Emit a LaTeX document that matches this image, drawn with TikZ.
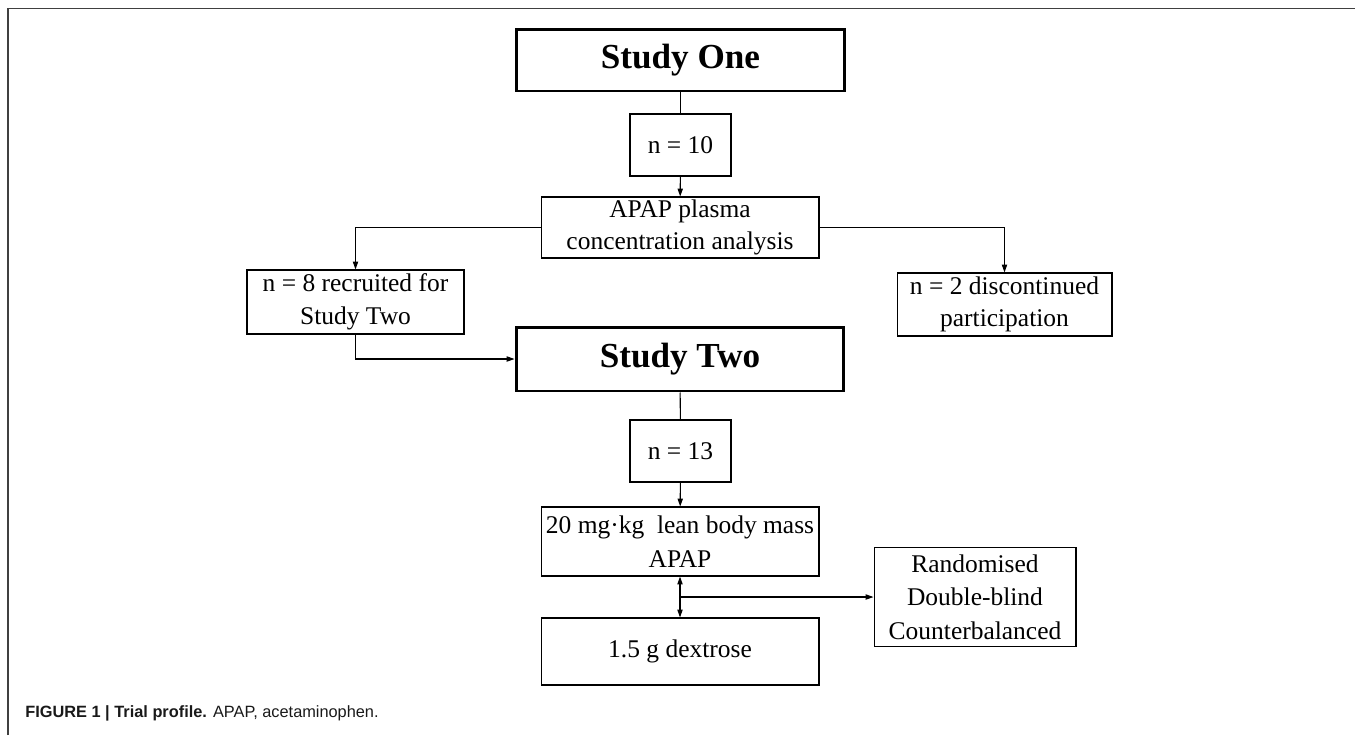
\documentclass[tikz,border=0pt]{standalone}
\usepackage{fontspec}
\setmainfont{Liberation Serif}
\setsansfont{Liberation Sans}
\usetikzlibrary{arrows.meta}

\begin{document}
\begin{tikzpicture}[x=0.02cm, y=-0.02cm,
    box/.style={draw, line width=0.6pt, rectangle, inner sep=0pt, align=center,
        font=\fontsize{14.5}{18.5}\selectfont},
    studybox/.style={box, line width=1.7pt, font=\fontsize{20}{24}\selectfont\bfseries},
    link/.style={line width=0.6pt},
    arr/.style={link, -{Triangle[length=4.5pt, width=3pt]}}]
        \useasboundingbox (0,0) rectangle (1355,735);
        \draw[black!75, line width=0.9pt] (8,735) -- (8,8.5) -- (1355,8.5);
        \node[studybox, minimum width=6.58cm, minimum height=1.24cm] at (680.5,60) (one) {Study One};
        \node[box, minimum width=2.02cm, minimum height=1.24cm] at (680.5,145) (n10) {n = 10};
        \node[box, minimum width=5.56cm, minimum height=1.22cm] at (680,227.5) (apap) {APAP plasma\\concentration analysis};
        \node[box, minimum width=4.34cm, minimum height=1.28cm] at (355.5,302) (n8) {n = 8 recruited for\\Study Two};
        \node[box, minimum width=4.30cm, minimum height=1.26cm] at (1004.5,304.5) (n2) {n = 2 discontinued\\participation};
        \node[studybox, minimum width=6.56cm, minimum height=1.28cm] at (680,359) (two) {Study Two};
        \node[box, minimum width=2.02cm, minimum height=1.24cm] at (680.5,451) (n13) {n = 13};
        \node[box, minimum width=5.56cm, minimum height=1.38cm, font=\fontsize{14.5}{19.5}\selectfont] at (680,541.5) (dose) {20 mg·kg\ \ lean body mass\\APAP};
        \node[box, minimum width=5.56cm, minimum height=1.34cm] at (680,651.5) (dex) {1.5 g dextrose};
        \node[box, minimum width=4.04cm, minimum height=1.98cm, font=\fontsize{14.5}{19}\selectfont] at (975,597) (rand) {Randomised\\Double-blind\\Counterbalanced};
        \coordinate (mid) at (680.5,597);
        \draw[link] (one) -- (n10);
        \draw[arr] (n10) -- (apap);
        \draw[arr] (apap.west) -| (n8.north);
        \draw[arr] (apap.east) -| (n2.north);
        \draw[arr] (n8.south) |- (two.west);
        \draw[link] (two) -- (n13);
        \draw[arr] (n13) -- (dose);
        \draw[link, {Triangle[length=4.5pt, width=3pt]}-{Triangle[length=4.5pt, width=3pt]}] (dose) -- (dex);
        \draw[arr] (mid) -- (rand.west);
        \node[anchor=west, inner sep=0pt, font=\sffamily\fontsize{9.3}{11}\selectfont, text=black!90] at (25,713) (cap)
            {\textbf{FIGURE 1 | Trial profile.} APAP, acetaminophen.};
    \end{tikzpicture}
\end{document}
